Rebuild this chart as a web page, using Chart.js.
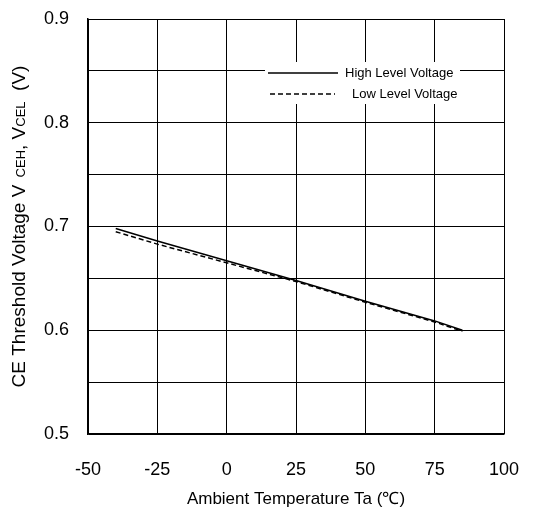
<!DOCTYPE html>
<html>
<head>
<meta charset="utf-8">
<script src="https://cdn.jsdelivr.net/npm/chart.js@4"></script>
<style>
  html, body { margin: 0; padding: 0; background: #fff; }
  #wrap { width: 545px; height: 516px; }
</style>
</head>
<body>
<div id="wrap"><canvas id="chart" width="545" height="516"></canvas></div>
<script>
// temperatures (°C) and threshold voltages (V)
const temps = [-40, -25, 0, 25, 50, 75, 85];
const highLevel = [0.698, 0.686, 0.667, 0.648, 0.628, 0.609, 0.600];
const lowLevel = [0.695, 0.683, 0.665, 0.647, 0.627, 0.608, 0.599];
const seriesNames = ['High Level Voltage', 'Low Level Voltage'];
const xTitle = 'Ambient Temperature Ta (\u2103)';

const FONT = '"Liberation Sans", Arial, sans-serif';

// y-axis title with subscripts, drawn by hand
const yTitlePlugin = {
  id: 'yTitle',
  afterDraw(chart) {
    const ctx = chart.ctx;
    const parts = [
      ['CE Threshold Voltage V', 19],
      ['  CEH', 13],
      [',', 19],
      [' V', 19],
      ['CEL', 13],
      ['  (V)', 19]
    ];
    ctx.save();
    let total = 0;
    parts.forEach(p => { ctx.font = p[1] + 'px ' + FONT; total += ctx.measureText(p[0]).width; });
    const cy = (chart.chartArea.top + chart.chartArea.bottom) / 2;
    ctx.translate(25, cy);
    ctx.rotate(-Math.PI / 2);
    ctx.fillStyle = '#000';
    ctx.textBaseline = 'alphabetic';
    let x = -total / 2;
    parts.forEach(p => {
      ctx.font = p[1] + 'px ' + FONT;
      ctx.fillText(p[0], x, 0);
      x += ctx.measureText(p[0]).width;
    });
    ctx.restore();
  }
};

// legend box inside the plot area
const legendPlugin = {
  id: 'insideLegend',
  afterDatasetsDraw(chart) {
    const ctx = chart.ctx;
    const left = 265, top = 62;
    ctx.save();
    ctx.fillStyle = '#fff';
    ctx.fillRect(left, top, 195, 42);
    ctx.font = '13px ' + FONT;
    ctx.fillStyle = '#000';
    ctx.textBaseline = 'middle';
    ctx.strokeStyle = '#000';
    ctx.lineWidth = 1.5;
    // solid
    ctx.beginPath();
    ctx.moveTo(left + 3, 73); ctx.lineTo(left + 73, 73); ctx.stroke();
    ctx.fillText(seriesNames[0], left + 80, 73);
    // dashed
    ctx.setLineDash([5, 3]);
    ctx.beginPath();
    ctx.moveTo(left + 5, 94); ctx.lineTo(left + 70, 94); ctx.stroke();
    ctx.setLineDash([]);
    ctx.fillText(seriesNames[1], left + 87, 94);
    ctx.restore();
  }
};

new Chart(document.getElementById('chart'), {
  type: 'line',
  data: {
    datasets: [
      {
        label: seriesNames[0],
        data: temps.map((t, i) => ({ x: t, y: highLevel[i] })),
        borderColor: '#000',
        borderWidth: 1.5,
        pointRadius: 0,
        fill: false,
        tension: 0
      },
      {
        label: seriesNames[1],
        data: temps.map((t, i) => ({ x: t, y: lowLevel[i] })),
        borderColor: '#000',
        borderWidth: 1.5,
        borderDash: [5, 3],
        pointRadius: 0,
        fill: false,
        tension: 0
      }
    ]
  },
  options: {
    responsive: false,
    animation: false,
    layout: { padding: { left: 40, right: 41, top: 19, bottom: 6 } },
    plugins: {
      legend: { display: false },
      tooltip: { enabled: false }
    },
    scales: {
      x: {
        type: 'linear',
        min: -50,
        max: 100,
        afterFit(scale) {
          scale.height = 76;
          scale.paddingLeft = 0;
          scale.paddingRight = 0;
        },
        ticks: {
          stepSize: 25,
          color: '#000',
          font: { family: FONT, size: 18 },
          padding: 25
        },
        grid: { color: '#000', lineWidth: 1, drawTicks: false },
        border: { color: '#000', width: 1.5 },
        title: {
          display: true,
          text: xTitle,
          color: '#000',
          font: { family: FONT, size: 17 },
          padding: { top: 10, bottom: 0 }
        }
      },
      y: {
        min: 0.5,
        max: 0.9,
        afterFit(scale) {
          scale.width = 48;
          scale.paddingTop = 0;
          scale.paddingBottom = 0;
        },
        ticks: {
          stepSize: 0.05,
          color: '#000',
          font: { family: FONT, size: 18 },
          padding: 19,
          callback: v => (Math.round(v * 20) % 2 === 0 ? v.toFixed(1) : '')
        },
        grid: { color: '#000', lineWidth: 1, drawTicks: false },
        border: { color: '#000', width: 1.5 }
      }
    }
  },
  plugins: [yTitlePlugin, legendPlugin]
});
</script>
</body>
</html>
